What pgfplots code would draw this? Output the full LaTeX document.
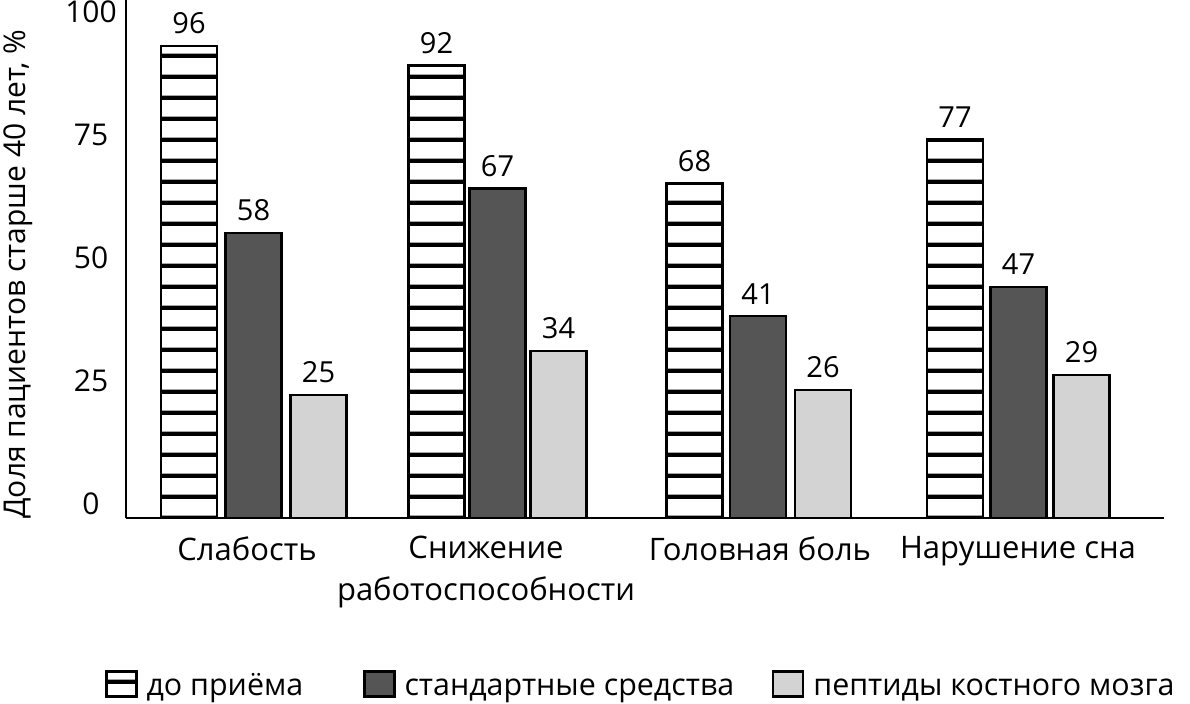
\documentclass[border=0pt]{standalone}
\usepackage{fontspec}
\setmainfont{Open Sans}
\usepackage{pgfplots}
\pgfplotsset{compat=1.18}
\usetikzlibrary{patterns}
\pgfdeclarepatternformonly{hstripes}{\pgfpointorigin}{\pgfqpoint{4bp}{10.25bp}}{\pgfqpoint{4bp}{10.25bp}}{%
  \pgfpathrectangle{\pgfqpoint{-1bp}{0bp}}{\pgfqpoint{6bp}{2.2bp}}\pgfusepath{fill}}
\definecolor{darkbar}{HTML}{555555}
\definecolor{lightbar}{HTML}{D3D3D3}

\begin{document}
\begin{tikzpicture}
\begin{axis}[name=ax,
  scale only axis, width=519bp, height=259bp,
  xmin=126, xmax=1164, ymin=0, ymax=105.3,
  axis x line*=bottom, axis y line*=left,
  axis line style={line width=1bp, black},
  ytick={0,25,50,75,100},
  major tick length=0pt,
  xtick={247,486,760,1018},
  xticklabels={Слабость, {Снижение\\работоспособности}, Головная боль, Нарушение сна},
  xticklabel style={align=center, font=\fontsize{15.5bp}{21bp}\selectfont, inner sep=0pt, yshift=-9bp},
  yticklabel style={anchor=center, font=\fontsize{15bp}{18bp}\selectfont, xshift=-17.5bp, yshift=7bp},
  /pgf/number format/assume math mode=true,
  ylabel={Доля пациентов старше 40 лет, \%},
  every axis y label/.style={at={(axis description cs:-0.104,0.471)}, rotate=90, anchor=center, font=\fontsize{15bp}{18bp}\selectfont},
  ybar, bar width=56, bar shift=0pt,
  nodes near coords,
  nodes near coords style={font=\fontsize{14.5bp}{16bp}\selectfont, anchor=south, inner sep=0pt, yshift=5.5bp, text=black},
  clip=false,
  legend columns=-1,
  legend style={at={(axis cs:105,-37.6)}, anchor=south west, draw=none, fill=none, inner sep=0pt,
    font=\fontsize{15.2bp}{18bp}\selectfont,
    nodes={inner sep=0pt, text height=11.5bp, text depth=3.5bp},
    /tikz/every odd column/.append style={column sep=4.5bp},
    /tikz/every even column/.append style={column sep=19bp}},
  legend image code/.code={\draw[#1] (0bp,-4.5bp) rectangle (15bp,8bp);},
]
\addplot[draw=black, line width=1.1bp, preaction={fill=white}, pattern=hstripes]
  coordinates {(189,96) (436.5,92) (694.5,68) (955,77)};
\addlegendentry{до приёма\hspace*{11bp}}
\addplot[draw=black, line width=1.1bp, fill=darkbar]
  coordinates {(253.5,58) (497.5,67) (758,41) (1018.5,47)};
\addlegendentry{стандартные средства}
\addplot[draw=black, line width=1.1bp, fill=lightbar]
  coordinates {(318.5,25) (558.5,34) (823,26) (1081.5,29)};
\addlegendentry{пептиды костного мозга}
\end{axis}
\pgfresetboundingbox
\path[use as bounding box] ([shift={(-63bp,-93bp)}]ax.south west) rectangle ([shift={(532bp,0bp)}]ax.north west);
\end{tikzpicture}
\end{document}
